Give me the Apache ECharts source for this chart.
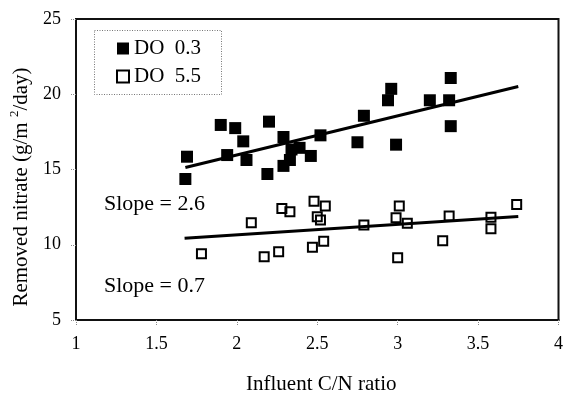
<!DOCTYPE html>
<html>
<head>
<meta charset="utf-8">
<script src="https://cdn.jsdelivr.net/npm/echarts@6/dist/echarts.min.js"></script>
<style>
  html, body { margin: 0; padding: 0; background: #fff; }
  #chart { width: 566px; height: 400px; }
</style>
</head>
<body>
<div id="chart"></div>
<script>
// Removed nitrate vs influent C/N ratio at two dissolved-oxygen levels
const seriesNames = ['DO  0.3', 'DO  5.5'];

// DO 0.3 (filled squares)
const lowDoX = [1.69, 1.68, 1.90, 1.99, 1.94, 2.04, 2.06, 2.20, 2.19, 2.29, 2.29, 2.33, 2.34,
                2.39, 2.46, 2.52, 2.79, 2.75, 2.96, 2.94, 2.99, 3.20, 3.32, 3.33, 3.33];
const lowDoY = [15.85, 14.37, 17.96, 17.75, 15.96, 16.87, 15.63, 18.18, 14.70, 17.16, 15.24, 15.63, 16.33,
                16.44, 15.90, 17.27, 18.57, 16.81, 20.36, 19.60, 16.65, 19.60, 19.60, 21.08, 17.88];

// DO 5.5 (open squares)
const highDoX = [1.78, 2.09, 2.17, 2.26, 2.28, 2.33, 2.48, 2.55, 2.50, 2.52, 2.47, 2.54, 2.79,
                 3.01, 2.99, 3.06, 3.00, 3.28, 3.32, 3.58, 3.58, 3.74];
const highDoY = [9.40, 11.47, 9.20, 9.53, 12.41, 12.19, 12.89, 12.58, 11.86, 11.65, 9.84, 10.23, 11.32,
                 12.58, 11.80, 11.43, 9.14, 10.27, 11.91, 11.82, 11.06, 12.67];

// Linear fits: slope, intercept and x-extent of each fitted line
const fitSlopes = [2.6, 0.7];
const fitIntercepts = [10.76, 9.26];
const fitXStart = [1.68, 1.675];
const fitXEnd = [3.75, 3.75];

// Axis ranges
const xTicks = [1, 1.5, 2, 2.5, 3, 3.5, 4];
const yTicks = [5, 10, 15, 20, 25];

const serif = '"Liberation Serif", "DejaVu Serif", serif';

function pairs(xs, ys) { return xs.map((x, i) => [x, ys[i]]); }
function fitLine(i) {
  return [fitXStart[i], fitXEnd[i]].map(x => [x, fitIntercepts[i] + fitSlopes[i] * x]);
}

const chart = echarts.init(document.getElementById('chart'), null, { renderer: 'canvas' });

const tickStyle = { show: true, inside: false, length: 5, lineStyle: { color: '#888', width: 1, type: [1, 1] } };

chart.setOption({
  animation: false,
  backgroundColor: '#fff',
  textStyle: { fontFamily: serif, color: '#000' },
  grid: {
    left: 76, right: 3, top: 19, bottom: 75,
    show: true, borderColor: '#111', borderWidth: 2, backgroundColor: 'transparent'
  },
  xAxis: {
    type: 'value',
    min: xTicks[0], max: xTicks[xTicks.length - 1], interval: 0.5,
    axisLine: { show: true, onZero: false, lineStyle: { color: '#111', width: 2 } },
    axisTick: tickStyle,
    splitLine: { show: false },
    axisLabel: { fontFamily: serif, fontSize: 18, color: '#000', margin: 15 },
    name: 'Influent C/N ratio',
    nameLocation: 'middle',
    nameGap: 54,
    nameTextStyle: { fontFamily: serif, fontSize: 21, color: '#000', padding: [0, 0, 0, 8] }
  },
  yAxis: {
    type: 'value',
    min: yTicks[0], max: yTicks[yTicks.length - 1], interval: 5,
    axisLine: { show: true, onZero: false, lineStyle: { color: '#111', width: 2 } },
    axisTick: tickStyle,
    splitLine: { show: false },
    axisLabel: { fontFamily: serif, fontSize: 18, color: '#000', margin: 15 }
  },
  legend: {
    orient: 'vertical',
    left: 116, top: 38,
    itemWidth: 12, itemHeight: 12, itemGap: 7,
    padding: 0,
    textStyle: { fontFamily: serif, fontSize: 21, color: '#000', lineHeight: 20 },
    data: [
      { name: seriesNames[0], icon: 'rect' },
      { name: seriesNames[1], icon: 'rect' }
    ]
  },
  graphic: [
    {
      type: 'rect', silent: true, z: 0,
      shape: { x: 94.5, y: 30.5, width: 127, height: 64 },
      style: { fill: '#fff', stroke: '#777', lineWidth: 1, lineDash: [1, 1.5] }
    },
    {
      type: 'text', silent: true,
      x: 21, y: 187, rotation: Math.PI / 2,
      style: {
        text: 'Removed nitrate (g/m {sup|2}/day)',
        fontFamily: serif, fontSize: 21, fill: '#000',
        align: 'center', verticalAlign: 'middle',
        rich: { sup: { fontFamily: serif, fontSize: 13, fill: '#000', padding: [0, 0, 12, 0] } }
      }
    },
    {
      type: 'text', silent: true, left: 104, top: 193,
      style: { text: 'Slope = ' + fitSlopes[0].toFixed(1), fontFamily: serif, fontSize: 22, fill: '#000' }
    },
    {
      type: 'text', silent: true, left: 104, top: 275,
      style: { text: 'Slope = ' + fitSlopes[1].toFixed(1), fontFamily: serif, fontSize: 22, fill: '#000' }
    }
  ],
  series: [
    {
      name: seriesNames[0],
      type: 'scatter',
      symbol: 'rect',
      symbolSize: 12,
      itemStyle: { color: '#000', opacity: 1 },
      data: pairs(lowDoX, lowDoY),
      z: 3
    },
    {
      name: seriesNames[1],
      type: 'scatter',
      symbol: 'rect',
      symbolSize: 9,
      itemStyle: { color: 'rgba(255,255,255,0)', borderColor: '#000', borderWidth: 2, opacity: 1 },
      data: pairs(highDoX, highDoY),
      z: 3
    },
    {
      name: 'fit-low',
      type: 'line',
      data: fitLine(0),
      symbol: 'none',
      lineStyle: { color: '#000', width: 3 },
      z: 4
    },
    {
      name: 'fit-high',
      type: 'line',
      data: fitLine(1),
      symbol: 'none',
      lineStyle: { color: '#000', width: 3 },
      z: 4
    }
  ]
});
</script>
</body>
</html>
